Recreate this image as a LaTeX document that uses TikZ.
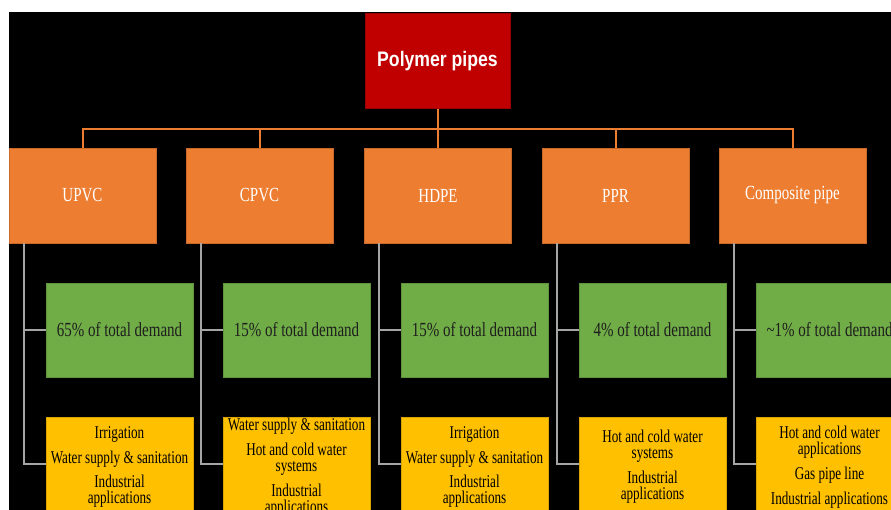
\documentclass[tikz,border=0pt]{standalone}
\usepackage{fontspec}
\setmainfont{Liberation Serif}
\newfontfamily\boxserif[FakeStretch=0.75]{Liberation Serif}
\newfontfamily\itemserif[FakeStretch=0.73]{Liberation Serif}
\newfontfamily\titlesans[FakeStretch=0.84]{Liberation Sans}

\definecolor{rootred}{HTML}{C00000}
\definecolor{typeorange}{HTML}{ED7D31}
\definecolor{sharegreen}{HTML}{70AD47}
\definecolor{useyellow}{HTML}{FFC000}
\definecolor{linkgray}{HTML}{A5A5A5}
\definecolor{darktext}{HTML}{1E1E1E}

\tikzset{
  rootbox/.style={rectangle, fill=rootred, draw=rootred!80!black, line width=0.6pt,
    minimum width=145pt, minimum height=95pt, inner sep=0pt,
    text=white, font=\titlesans\bfseries\fontsize{21}{24}\selectfont},
  typebox/.style={rectangle, fill=typeorange, draw=typeorange!85!black, line width=0.6pt,
    minimum width=147pt, minimum height=95pt, inner sep=0pt,
    text=white, font=\boxserif\fontsize{20}{24}\selectfont},
  sharebox/.style={rectangle, fill=sharegreen, draw=sharegreen!85!black, line width=0.6pt,
    minimum width=147pt, minimum height=94pt, inner sep=0pt,
    text=darktext, font=\boxserif\fontsize{20}{24}\selectfont},
  usebox/.style={rectangle, fill=useyellow, draw=useyellow!85!black, line width=0.6pt,
    minimum width=147pt, minimum height=100pt, inner sep=0pt, align=center,
    text=black, font=\itemserif\fontsize{18}{16}\selectfont},
  treelink/.style={draw=typeorange, line width=2pt},
  branchlink/.style={draw=linkgray, line width=1.8pt},
}

\begin{document}
\begin{tikzpicture}[x=1pt, y=-1pt]
  \clip (0,0) rectangle (891,510);
  \fill[white] (0,0) rectangle (891,510);
  \fill[black] (9,12) rectangle (891,510);

  % root
  \node[rootbox] (root) at (437.5,61) {Polymer pipes};

  % pipe types
  \node[typebox] (t1) at (82.5,195.5) {UPVC};
  \node[typebox] (t2) at (259.5,195.5) {CPVC};
  \node[typebox] (t3) at (438,195.5) {HDPE};
  \node[typebox] (t4) at (615.5,195.5) {PPR};
  \node[typebox] (t5) at (792.5,195.5) {Composite pipe};

  % market shares
  \node[sharebox] (s1) at (119.5,330) {65\% of total demand};
  \node[sharebox] (s2) at (296.5,330) {15\% of total demand};
  \node[sharebox] (s3) at (474.5,330) {15\% of total demand};
  \node[sharebox] (s4) at (652.5,330) {4\% of total demand};
  \node[sharebox] (s5) at (829.5,330) {\textasciitilde1\% of total demand};

  % applications (boxes run past the lower edge)
  \node[usebox] (u1) at (119.5,467) {Irrigation\\[7.5pt]Water supply \& sanitation\\[7.5pt]Industrial\\applications};
  \node[usebox] (u2) at (296.5,467) {Water supply \& sanitation\\[7.5pt]Hot and cold water\\systems\\[7.5pt]Industrial\\applications};
  \node[usebox] (u3) at (474.5,467) {Irrigation\\[7.5pt]Water supply \& sanitation\\[7.5pt]Industrial\\applications};
  \node[usebox] (u4) at (652.5,467) {Hot and cold water\\systems\\[7.5pt]Industrial\\applications};
  \node[usebox] (u5) at (829.5,467) {Hot and cold water\\applications\\[7.5pt]Gas pipe line\\[7.5pt]Industrial applications};

  % root to types
  \coordinate (bus) at (0,129.5);
  \foreach \i in {1,...,5}{
    \draw[treelink] (root.south) -- (root.south |- bus) -| (t\i.north);
  }

  % types to shares and applications
  \foreach \i in {1,...,5}{
    \coordinate (drop\i) at ([xshift=15pt]t\i.south west);
    \draw[branchlink] (drop\i) |- (s\i.west);
    \draw[branchlink] (drop\i) |- ([yshift=3pt]u\i.west);
  }
\end{tikzpicture}
\end{document}
